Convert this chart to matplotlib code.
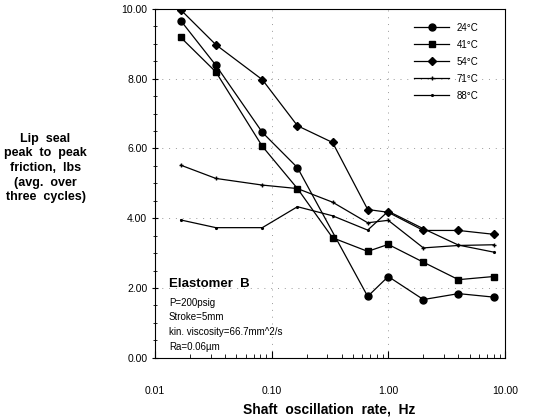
import matplotlib
matplotlib.use("Agg")
import matplotlib.pyplot as plt
from matplotlib.ticker import MultipleLocator, LogLocator, NullFormatter

plt.rcParams['font.family'] = ['Liberation Sans', 'DejaVu Sans']

# oscillation rate, Hz
freq = [1/60, 1/30, 1/12, 1/6, 1/3, 2/3, 1, 2, 4, 8]

# peak to peak friction, lbs (None = no point at that rate)
f_24 = [9.66, 8.38, 6.46, 5.45, None, 1.76, 2.33, 1.67, 1.84, 1.74]
f_41 = [9.18, 8.19, 6.06, 4.85, 3.44, 3.05, 3.25, 2.74, 2.24, 2.33]
f_54 = [9.97, 8.97, 7.97, 6.65, 6.17, 4.25, 4.17, 3.65, 3.65, 3.54]
f_71 = [5.52, 5.14, 4.95, 4.85, 4.46, 3.87, 3.94, 3.15, 3.22, 3.24]
f_88 = [3.95, 3.73, 3.73, 4.33, 4.07, 3.66, 4.20, 3.70, 3.23, 3.03]

labels = ['24°C', '41°C', '54°C', '71°C', '88°C']
series = [f_24, f_41, f_54, f_71, f_88]
markers = ['o', 's', 'D', '+', '.']
msizes = [5, 4.5, 4.5, 3.5, 2.5]

fig = plt.figure(figsize=(5.36, 4.2), dpi=100)
ax = fig.add_axes([0.289, 0.148, 0.653, 0.831])

for vals, lab, m, ms in zip(series, labels, markers, msizes):
    xs = [x for x, v in zip(freq, vals) if v is not None]
    ys = [v for v in vals if v is not None]
    ax.plot(xs, ys, color='black', lw=0.9, marker=m, ms=ms, label=lab)

ax.set_xscale('log')
ax.set_xlim(0.01, 10)
ax.set_ylim(0, 10)

ax.set_xticks([0.01, 0.1, 1, 10])
ax.set_xticklabels(['0.01', '0.10', '1.00', '10.00'])
ax.xaxis.set_minor_locator(LogLocator(base=10, subs=range(2, 10)))
ax.xaxis.set_minor_formatter(NullFormatter())
ax.yaxis.set_major_locator(MultipleLocator(2))
ax.yaxis.set_minor_locator(MultipleLocator(0.5))
ax.yaxis.set_major_formatter(plt.FormatStrFormatter('%.2f'))

ax.tick_params(axis='x', which='major', direction='in', length=5, pad=20, labelsize=7.5)
ax.tick_params(axis='x', which='minor', direction='in', length=3)
ax.tick_params(axis='y', which='major', direction='inout', length=5, pad=3, labelsize=7.5)
ax.tick_params(axis='y', which='minor', direction='inout', length=2.5)

for s in ax.spines.values():
    s.set_linewidth(0.8)

ax.grid(True, which='major', color='#999999', ls=(0, (1, 6)), lw=0.7)

leg = ax.legend(loc='upper right', bbox_to_anchor=(0.95, 0.985), frameon=False,
                fontsize=7, handlelength=3.6, labelspacing=0.72, handletextpad=0.8)

ax.text(0.04, 0.212, 'Elastomer  B', transform=ax.transAxes, fontsize=9.5,
        fontweight='bold', va='center')
notes = ['P=200psig', 'Stroke=5mm', 'kin. viscosity=66.7mm^2/s', 'Ra=0.06µm']
for i, t in enumerate(notes):
    ax.text(0.04, 0.158 - i * 0.042, t, transform=ax.transAxes, fontsize=7,
            va='center')

fig.text(0.085, 0.6,
         'Lip  seal\npeak  to  peak\nfriction,  lbs\n(avg.  over\nthree  cycles)',
         ha='center', va='center', fontsize=9, fontweight='bold', linespacing=1.3)
fig.text(0.615, 0.024, 'Shaft  oscillation  rate,  Hz', ha='center', va='center',
         fontsize=10, fontweight='bold')

fig.savefig('out.png', dpi=100)
